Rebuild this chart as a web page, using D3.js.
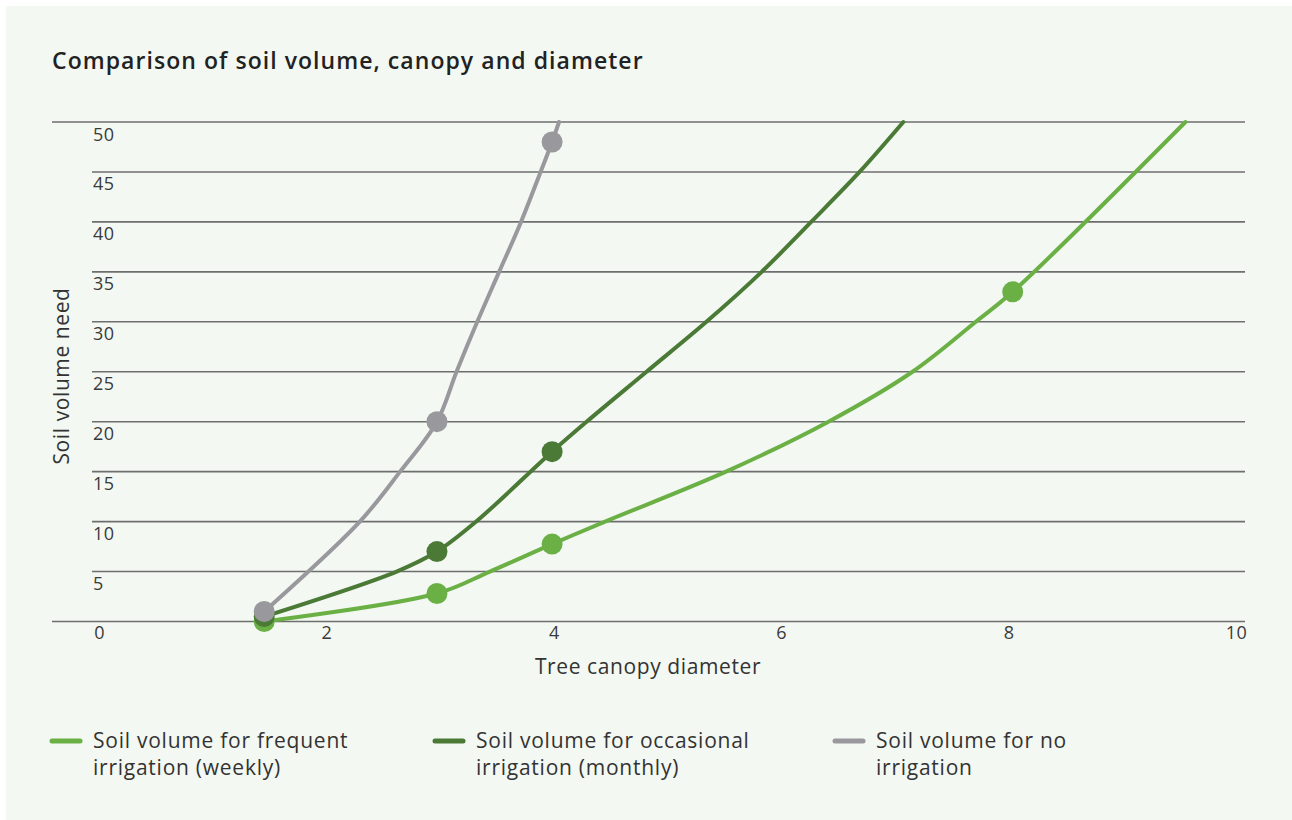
<!DOCTYPE html>
<html>
<head>
<meta charset="utf-8">
<script src="https://cdn.jsdelivr.net/npm/d3@7"></script>
<style>
    body { margin: 0; background: #ffffff; }
    #SoilPlot text { font-family: "Open Sans", sans-serif; }
</style>
</head>
<body>
<div id="SoilPlot"></div>
<script>

//Values: [canopy diameter, soil volume]
const frequentLine = [[1.5, 0], [3, 2.8], [3.46, 5], [4, 7.75], [4.46, 10], [5.51, 15], [6.4, 20],
    [7.13, 25], [7.68, 30], [8, 33], [9.5, 50]];
const frequentDots = [[1.5, 0], [3, 2.8], [4, 7.75], [8, 33]];

const occasionalLine = [[1.5, 0.5], [2.65, 5], [3, 7], [3.34, 10], [4, 17], [4.3, 20], [4.82, 25],
    [5.34, 30], [5.82, 35], [6.25, 40], [6.67, 45], [7.05, 50]];
const occasionalDots = [[1.5, 0.5], [3, 7], [4, 17]];

const noneLine = [[1.5, 1], [2.33, 10], [2.68, 15], [3, 20], [3.17, 25], [3.35, 30], [3.54, 35],
    [3.73, 40], [3.9, 45], [4, 48], [4.06, 50]];
const noneDots = [[1.5, 1], [3, 20], [4, 48]];

const xTicks = [0, 2, 4, 6, 8, 10];
const yTicks = [0, 5, 10, 15, 20, 25, 30, 35, 40, 45, 50];

const seriesNames = [
    ["Soil volume for frequent", "irrigation (weekly)"],
    ["Soil volume for occasional", "irrigation (monthly)"],
    ["Soil volume for no", "irrigation"]
];
const seriesColors = ["#6ab045", "#4a7a36", "#98989d"];

const chartTitle = "Comparison of soil volume, canopy and diameter";
const xTitle = "Tree canopy diameter";
const yTitle = "Soil volume need";


class SoilChart
{
    constructor ()
    {
        this.svgWidth = 1292;
        this.svgHeight = 820;

        //Adds svg to the div
        this.svg = d3.select("#SoilPlot").append("svg")
            .attr("width", this.svgWidth)
            .attr("height", this.svgHeight);

        //Pale green panel
        this.svg.append("rect")
            .attr("x", 6).attr("y", 6)
            .attr("width", this.svgWidth - 6).attr("height", this.svgHeight - 6)
            .attr("fill", "#f3f8f2");

        this.svg.append("g").attr("id", "grid");
        this.svg.append("g").attr("id", "xAxis");
        this.svg.append("g").attr("id", "yAxis");
        this.svg.append("g").attr("id", "lines");
        this.svg.append("g").attr("id", "legend");
    };

    update ()
    {
        let left = 52;
        let right = 1245;

        //Scales
        let xScale = d3.scaleLinear().domain([0, 10]).range([91.5, 1243]);
        //tick labels sit a little inside the data scale in the original
        let xLabelScale = d3.scaleLinear().domain([0, 10]).range([99, 1236]);
        let yScale = d3.scaleLinear().domain([0, 50]).range([621.5, 122]);

        //Title (the original face is wider than Open Sans, hence the spacing)
        this.svg.append("text")
            .attr("x", left).attr("y", 69)
            .attr("font-size", 23).attr("font-weight", 600)
            .attr("letter-spacing", 1.05)
            .attr("fill", "#222")
            .text(chartTitle);

        //Gridlines: the outer two run the whole width
        d3.select("#grid").selectAll("line")
            .data(yTicks)
            .join("line")
            .attr("x1", d => (d === 0 || d === 50) ? left : 92)
            .attr("x2", right)
            .attr("y1", d => yScale(d))
            .attr("y2", d => yScale(d))
            .attr("stroke", "#6e6e6e")
            .attr("stroke-width", 1.6);

        //y-axis labels, hung under each gridline
        let yAxis = d3.axisRight(yScale).tickValues(yTicks.slice(1)).tickSize(0).tickPadding(0);
        d3.select("#yAxis")
            .attr("transform", "translate(93, 0)")
            .call(yAxis)
            .call(g => g.select(".domain").remove());
        d3.select("#yAxis").selectAll("text")
            .attr("dy", 18)
            .attr("font-size", 18)
            .attr("letter-spacing", 0.4)
            .attr("fill", "#3a3a3a");

        //x-axis labels
        let xAxis = d3.axisBottom(xLabelScale).tickValues(xTicks).tickSize(0).tickPadding(0);
        d3.select("#xAxis")
            .attr("transform", "translate(0, " + yScale(0) + ")")
            .call(xAxis)
            .call(g => g.select(".domain").remove());
        d3.select("#xAxis").selectAll("text")
            .attr("y", 0)
            .attr("dy", 17.5)
            .attr("font-size", 18)
            .attr("letter-spacing", 0.4)
            .attr("fill", "#3a3a3a");

        //Axis titles
        this.svg.append("text")
            .attr("x", 648).attr("y", 674)
            .attr("text-anchor", "middle")
            .attr("font-size", 21).attr("letter-spacing", 0.6)
            .attr("fill", "#333")
            .text(xTitle);

        this.svg.append("text")
            .attr("transform", "translate(69, 376) rotate(-90)")
            .attr("text-anchor", "middle")
            .attr("font-size", 21).attr("letter-spacing", 0.6)
            .attr("fill", "#333")
            .text(yTitle);

        //Plots data
        let line = d3.line()
            .x(d => xScale(d[0]))
            .y(d => yScale(d[1]))
            .curve(d3.curveCatmullRom.alpha(0.5));

        let series = [
            {line: frequentLine, dots: frequentDots},
            {line: occasionalLine, dots: occasionalDots},
            {line: noneLine, dots: noneDots}
        ];

        let groups = d3.select("#lines").selectAll("g")
            .data(series)
            .join("g");

        groups.append("path")
            .attr("d", d => line(d.line))
            .attr("fill", "none")
            .attr("stroke", (d, i) => seriesColors[i])
            .attr("stroke-width", 4)
            .attr("stroke-linecap", "round")
            .attr("stroke-linejoin", "round");

        groups.each(function (d, i)
        {
            d3.select(this).selectAll("circle")
                .data(d.dots)
                .join("circle")
                .attr("cx", p => xScale(p[0]))
                .attr("cy", p => yScale(p[1]))
                .attr("r", 10.5)
                .attr("fill", seriesColors[i]);
        });

        //Legend
        let legendX = [50, 433, 833];
        let items = d3.select("#legend").selectAll("g")
            .data(seriesNames)
            .join("g")
            .attr("transform", (d, i) => "translate(" + legendX[i] + ", 741)");

        items.append("line")
            .attr("x1", 2).attr("x2", 30)
            .attr("y1", 0).attr("y2", 0)
            .attr("stroke", (d, i) => seriesColors[i])
            .attr("stroke-width", 5)
            .attr("stroke-linecap", "round");

        items.append("text")
            .attr("font-size", 21)
            .attr("letter-spacing", 0.75)
            .attr("fill", "#333")
            .selectAll("tspan")
            .data(d => d)
            .join("tspan")
            .attr("x", 43)
            .attr("y", (d, i) => 7 + i * 27)
            .text(d => d);
    }
}

let chart = new SoilChart();
chart.update();

</script>
</body>
</html>
